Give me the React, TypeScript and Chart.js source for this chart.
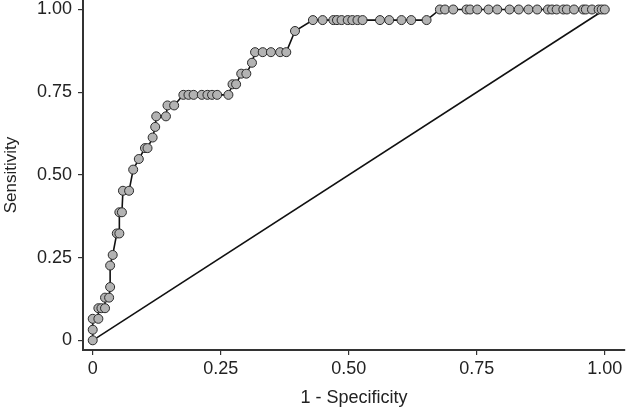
import React, { useEffect, useRef } from "react";
import { Chart, registerables } from "chart.js";

Chart.register(...registerables);

// 1 - Specificity (false positive rate) of each ROC point
const fpr = [
  0, 0, 0, 0.011, 0.011, 0.017, 0.024, 0.024, 0.032, 0.034, 0.034, 0.039,
  0.047, 0.052, 0.052, 0.057, 0.059, 0.071, 0.079, 0.09, 0.102, 0.107, 0.117,
  0.122, 0.124, 0.143, 0.146, 0.159, 0.177, 0.187, 0.197, 0.213, 0.224, 0.233,
  0.243, 0.265, 0.273, 0.28, 0.29, 0.3, 0.311, 0.317, 0.332, 0.348, 0.366,
  0.378, 0.395, 0.43, 0.449, 0.47, 0.477, 0.486, 0.498, 0.507, 0.517, 0.527,
  0.561, 0.579, 0.603, 0.622, 0.652, 0.678, 0.688, 0.704, 0.73, 0.737, 0.751,
  0.773, 0.79, 0.814, 0.832, 0.851, 0.868, 0.889, 0.897, 0.906, 0.919, 0.926,
  0.94, 0.958, 0.963, 0.975, 0.988, 0.994, 1.0,
];

// Sensitivity of each ROC point
const tpr = [
  0, 0.032, 0.065, 0.065, 0.097, 0.097, 0.097, 0.129, 0.129, 0.161, 0.226,
  0.258, 0.323, 0.323, 0.387, 0.387, 0.452, 0.452, 0.516, 0.548, 0.581, 0.581,
  0.613, 0.645, 0.677, 0.677, 0.71, 0.71, 0.742, 0.742, 0.742, 0.742, 0.742,
  0.742, 0.742, 0.742, 0.774, 0.774, 0.806, 0.806, 0.839, 0.871, 0.871, 0.871,
  0.871, 0.871, 0.935, 0.968, 0.968, 0.968, 0.968, 0.968, 0.968, 0.968, 0.968,
  0.968, 0.968, 0.968, 0.968, 0.968, 0.968, 1, 1, 1, 1, 1, 1, 1, 1, 1, 1, 1, 1,
  1, 1, 1, 1, 1, 1, 1, 1, 1, 1, 1, 1,
];

// Reference (chance) diagonal
const refX = [0, 1];
const refY = [0, 1];

const xTickValues = [0, 0.25, 0.5, 0.75, 1];
const xTickLabels = ["0", "0.25", "0.50", "0.75", "1.00"];
const yTickValues = [0, 0.25, 0.5, 0.75, 1];
const yTickLabels = ["0", "0.25", "0.50", "0.75", "1.00"];

const xTitle = "1 - Specificity";
const yTitle = "Sensitivity";

export default function App() {
  const ref = useRef<HTMLCanvasElement | null>(null);

  useEffect(() => {
    if (!ref.current) return;
    const family = "'Liberation Sans', Arial, sans-serif";
    const font = { family, size: 18 };
    const yTitleFont = { family, size: 17 };
    const axisColor = "#333333";
    const chart = new Chart(ref.current, {
      type: "scatter",
      data: {
        datasets: [
          {
            data: fpr.map((x, i) => ({ x, y: tpr[i] })),
            showLine: true,
            borderColor: "#111111",
            borderWidth: 1.6,
            pointRadius: 4.5,
            pointBackgroundColor: "#b3b3b3",
            pointBorderColor: "#2a2a2a",
            pointBorderWidth: 1,
          },
          {
            data: refX.map((x, i) => ({ x, y: refY[i] })),
            showLine: true,
            borderColor: "#111111",
            borderWidth: 1.6,
            pointRadius: 0,
          },
        ],
      },
      options: {
        animation: false,
        responsive: false,
        layout: { autoPadding: false, padding: { top: 0, right: 1, bottom: 0, left: 0 } },
        plugins: { legend: { display: false }, tooltip: { enabled: false } },
        scales: {
          x: {
            type: "linear",
            min: -0.019,
            max: 1.0395,
            grid: {
              display: true,
              drawOnChartArea: false,
              drawTicks: true,
              tickLength: 5,
              color: axisColor,
              lineWidth: 1.2,
            },
            border: { display: true, color: axisColor, width: 2 },
            ticks: {
              color: "#222",
              font,
              padding: 3,
              maxRotation: 0,
              callback: (v: any) => {
                const i = xTickValues.indexOf(Number(v));
                return i >= 0 ? xTickLabels[i] : "";
              },
            },
            afterBuildTicks: (s: any) => {
              s.ticks = xTickValues.map((value) => ({ value }));
            },
            afterFit: (s: any) => {
              s.height = 61;
              s.paddingLeft = 0;
              s.paddingRight = 0;
            },
            title: {
              display: true,
              text: xTitle,
              color: "#222",
              font,
              padding: { top: 0, bottom: 2 },
            },
          },
          y: {
            type: "linear",
            min: -0.0293,
            max: 1.0287,
            grid: {
              display: true,
              drawOnChartArea: false,
              drawTicks: true,
              tickLength: 5,
              color: axisColor,
              lineWidth: 1.2,
            },
            border: { display: true, color: axisColor, width: 2 },
            ticks: {
              color: "#222",
              font,
              padding: 6,
              callback: (v: any) => {
                const i = yTickValues.indexOf(Number(v));
                return i >= 0 ? yTickLabels[i] : "";
              },
            },
            afterBuildTicks: (s: any) => {
              s.ticks = yTickValues.map((value) => ({ value }));
            },
            afterFit: (s: any) => {
              s.width = 83;
              s.paddingTop = 0;
              s.paddingBottom = 0;
            },
            title: {
              display: true,
              text: yTitle,
              color: "#222",
              font: yTitleFont,
              padding: { top: 1, bottom: 0 },
            },
          },
        },
      },
    });
    return () => chart.destroy();
  }, []);

  return (
    <div style={{ position: "absolute", left: 0, top: 0, width: 626, height: 411, background: "#fff" }}>
      <canvas ref={ref} width={626} height={411} style={{ display: "block" }} />
    </div>
  );
}
